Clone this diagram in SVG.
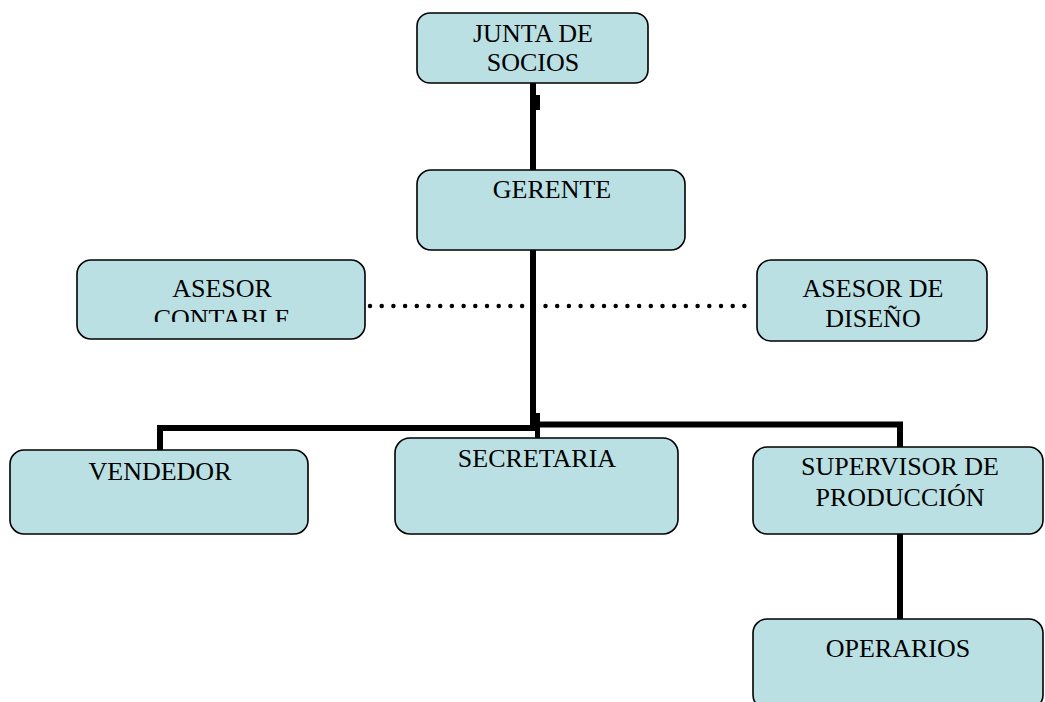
<svg xmlns="http://www.w3.org/2000/svg" width="1045" height="702" viewBox="0 0 1045 702">
<style>
.box{fill:#BAE0E3;stroke:#000;stroke-width:1.6}
.t{font-family:"Liberation Serif","Times New Roman",serif;font-size:26px;fill:#000;text-anchor:middle}
.ln{fill:none;stroke:#000;stroke-width:6;stroke-linejoin:miter}
.dot{fill:none;stroke:#000;stroke-width:4.5;stroke-linecap:round;stroke-dasharray:0 11.7}
</style>
<defs>
<clipPath id="clipContable"><rect x="77" y="260" width="288" height="62"/></clipPath>
</defs>
<rect width="1045" height="702" fill="#fff"/>
<g id="connectors">
<line class="ln" x1="533" y1="83" x2="533" y2="170"/>
<rect x="536" y="95" width="4" height="15" fill="#000"/>
<line class="ln" x1="533" y1="250" x2="533" y2="431"/>
<rect x="536" y="413" width="4" height="12" fill="#000"/>
<polyline class="ln" points="160,450 160,428 536,428"/>
<polyline class="ln" points="533,424.5 900,424.5 900,447"/>
<line class="ln" x1="537.5" y1="422" x2="537.5" y2="438" style="stroke-width:5"/>
<line class="ln" x1="900" y1="534" x2="900" y2="619"/>
<line class="dot" x1="370" y1="306" x2="755" y2="306"/>
</g>
<g id="junta">
<rect class="box" x="417" y="13" width="231" height="70" rx="13"/>
<text class="t" x="533" y="42">JUNTA DE</text>
<text class="t" x="533" y="71">SOCIOS</text>
</g>
<g id="gerente">
<rect class="box" x="417" y="170" width="268" height="80" rx="14"/>
<text class="t" x="552" y="198">GERENTE</text>
</g>
<g id="asesor-contable">
<rect class="box" x="77" y="260" width="288" height="79" rx="14"/>
<g clip-path="url(#clipContable)">
<text class="t" x="222" y="297">ASESOR</text>
<text class="t" x="222" y="327">CONTABLE</text>
</g>
</g>
<g id="asesor-diseno">
<rect class="box" x="757" y="260" width="230" height="81" rx="14"/>
<text class="t" x="873" y="297">ASESOR DE</text>
<text class="t" x="873" y="327">DISEÑO</text>
</g>
<g id="vendedor">
<rect class="box" x="10" y="450" width="298" height="84" rx="14"/>
<text class="t" x="160" y="480">VENDEDOR</text>
</g>
<g id="secretaria">
<rect class="box" x="395" y="438" width="283" height="96" rx="15"/>
<text class="t" x="537" y="467">SECRETARIA</text>
</g>
<g id="supervisor">
<rect class="box" x="753" y="447" width="290" height="87" rx="14"/>
<text class="t" x="900" y="475">SUPERVISOR DE</text>
<text class="t" x="900" y="506">PRODUCCIÓN</text>
</g>
<g id="operarios">
<rect class="box" x="753" y="619" width="290" height="90" rx="14"/>
<text class="t" x="898" y="657">OPERARIOS</text>
</g>
</svg>
